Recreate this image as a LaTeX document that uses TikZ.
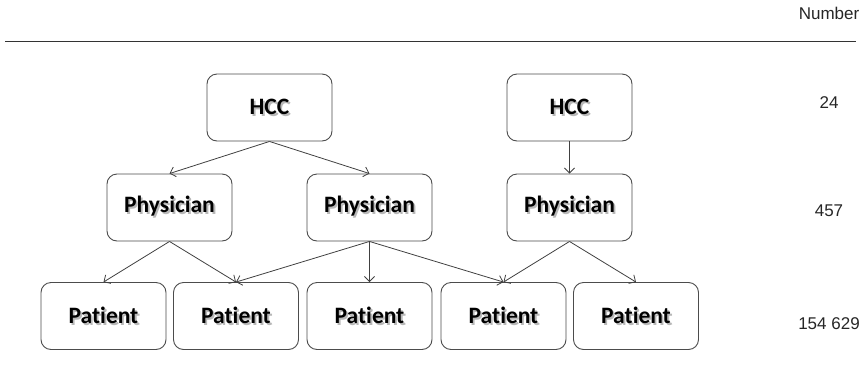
\documentclass[tikz,border=0pt]{standalone}
\usepackage{fontspec}
\setmainfont[Ligatures=CommonOff]{Carlito}
\newfontfamily\numfont{Liberation Sans}
\usetikzlibrary{arrows.meta}
\newcommand{\shtext}[1]{\makebox[0pt][l]{\raisebox{-2pt}{\hspace{1.8pt}\textcolor{black!28}{#1}}}#1}
\tikzset{
  boxnode/.style={draw=black!70, line width=0.9pt, rounded corners=10pt, fill=white,
    minimum width=125pt, minimum height=67pt, inner sep=0pt,
    font=\fontsize{23.5}{27}\selectfont\bfseries, text=black},
  conn/.style={draw=black!75, line width=0.8pt, -{Straight Barb[length=5pt,width=10pt,line width=0.8pt]}},
  numlabel/.style={font=\numfont\fontsize{17}{20}\selectfont, text=black!85, inner sep=0pt}
}
\begin{document}
\begin{tikzpicture}[x=1pt,y=-1pt]
\useasboundingbox (0,0) rectangle (863,381);
\node[numlabel, anchor=base] (numhead) at (829,19) {Number};
\coordinate (rl) at (5,41);
\coordinate (rr) at (856,41);
\draw[black!80, line width=0.9pt] (rl) -- (rr);

\node[boxnode] (hcc1) at (269.5,107.5) {\shtext{HCC}};
\node[boxnode] (hcc2) at (569.5,107.5) {\shtext{HCC}};

\node[boxnode] (phy1) at (169.5,207.5) {\shtext{Physician}};
\node[boxnode] (phy2) at (369.5,207.5) {\shtext{Physician}};
\node[boxnode] (phy3) at (569.5,207.5) {\shtext{Physician}};

\node[boxnode] (pat1) at (103.5,316) {\shtext{Patient}};
\node[boxnode] (pat2) at (236,316) {\shtext{Patient}};
\node[boxnode] (pat3) at (369.5,316) {\shtext{Patient}};
\node[boxnode] (pat4) at (503.5,316) {\shtext{Patient}};
\node[boxnode] (pat5) at (636,316) {\shtext{Patient}};

\node[numlabel] (n24) at (829,103) {24};
\node[numlabel] (n457) at (829,211) {457};
\node[numlabel] (n154) at (829,324) {154 629};

\draw[conn] (hcc1.south) -- (phy1.north);
\draw[conn] (hcc1.south) -- (phy2.north);
\draw[conn] (hcc2.south) -- (phy3.north);

\draw[conn] (phy1.south) -- (pat1.north);
\draw[conn] (phy1.south) -- (pat2.north);
\draw[conn] (phy2.south) -- (pat2.north);
\draw[conn] (phy2.south) -- (pat3.north);
\draw[conn] (phy2.south) -- (pat4.north);
\draw[conn] (phy3.south) -- (pat4.north);
\draw[conn] (phy3.south) -- (pat5.north);
\end{tikzpicture}
\end{document}
